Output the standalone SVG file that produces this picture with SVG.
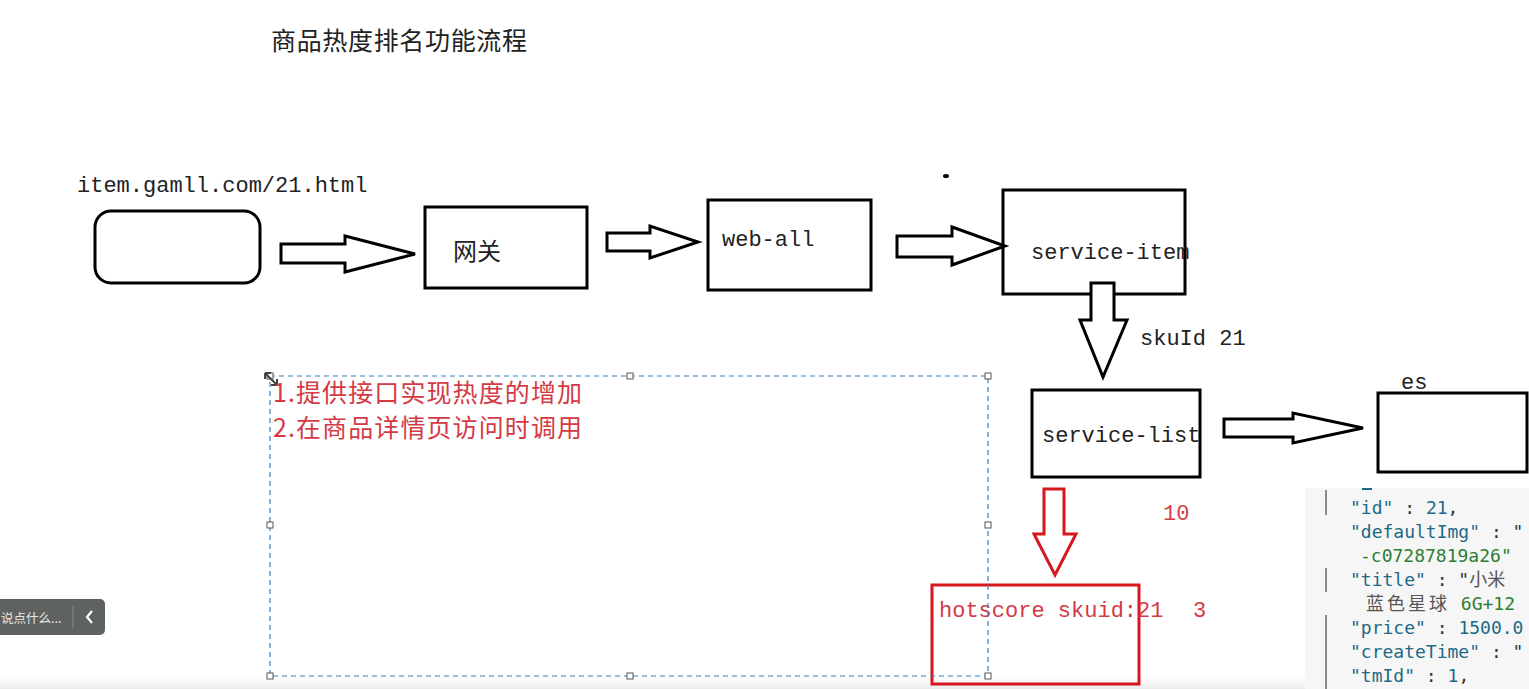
<svg xmlns="http://www.w3.org/2000/svg" width="1529" height="689" viewBox="0 0 1529 689">
<style>
.box{fill:#fff;stroke:#000;stroke-width:3}
.arr{fill:#fff;stroke:#000;stroke-width:3;stroke-linejoin:miter}
.rarr{fill:#fff;stroke:#d7161e;stroke-width:3}
.mono{font-family:"Liberation Mono","DejaVu Sans Mono",monospace;font-size:22px;fill:#222}
.cjk{font-family:"Noto Sans CJK SC","Noto Sans CJK JP",sans-serif}
.red{fill:#d43a45}
.sel{fill:none;stroke:#3d7fb8;stroke-width:1.2;stroke-dasharray:5 4}
.hdl{fill:#fff;stroke:#555;stroke-width:1}
.json{font-family:"DejaVu Sans Mono","Liberation Mono",monospace;font-size:18px}
.k{fill:#1d6a86}
.p{fill:#333}
.g{fill:#2e7d32}
.gr{fill:#555}
.bar{stroke:#8a8a8a;stroke-width:2}
</style>
<rect x="0" y="0" width="1529" height="689" fill="#fff"/>
<defs>
<linearGradient id="btm" x1="0" y1="0" x2="0" y2="1">
<stop offset="0" stop-color="#fff" stop-opacity="0"/>
<stop offset="1" stop-color="#e9e9e9"/>
</linearGradient>
</defs>
<rect x="0" y="672" width="1529" height="17" fill="url(#btm)"/>

<text x="271" y="50" class="cjk" font-size="25" fill="#222" textLength="256">商品热度排名功能流程</text>

<text x="77" y="192" class="mono">item.gamll.com/21.html</text>

<g id="node-client"><rect x="95" y="211" width="165" height="72" rx="16" class="box"/></g>

<g id="node-gateway"><rect x="425" y="207" width="162" height="81" class="box"/>
<text x="453" y="260" class="cjk" font-size="24" fill="#222">网关</text></g>

<g id="node-weball"><rect x="708" y="200" width="163" height="90" class="box"/>
<text x="722" y="246" class="mono">web-all</text></g>

<g id="node-serviceitem"><rect x="1003" y="190" width="182" height="104" class="box"/></g>

<g id="node-servicelist"><rect x="1032" y="390" width="168" height="87" class="box"/></g>

<g id="node-es"><rect x="1378" y="393" width="149" height="79" class="box"/>
<text x="1401" y="389" class="mono">es</text></g>

<g id="connectors">
<polygon class="arr" points="281,244 345,244 345,236 415,254 345,272 345,263 281,263"/>
<polygon class="arr" points="607,233 650,233 650,226 698,242 650,258 650,251 607,251"/>
<polygon class="arr" points="897,236 952,236 952,227 1005,246 952,265 952,257 897,257"/>
<polygon class="arr" points="1091,283 1114,283 1114,320 1127,320 1103,377 1080,320 1091,320"/>
<polygon class="arr" points="1224,419 1293,419 1293,413 1363,428 1293,443 1293,437 1224,437"/>
<polygon class="rarr" points="1044,489 1064,489 1064,534 1076,534 1055,575 1034,534 1044,534"/>
</g>

<text x="1031" y="259" class="mono">service-item</text>
<text x="1042" y="442" class="mono">service-list</text>
<text x="1140" y="345" class="mono">skuId 21</text>
<ellipse cx="946" cy="176" rx="3" ry="2" fill="#000"/>

<text x="1163" y="520" class="mono red">10</text>

<g id="node-hotscore"><rect x="932" y="585" width="207" height="99" fill="none" stroke="#d7161e" stroke-width="3"/>
<text x="939" y="617" class="mono red">hotscore skuid:21</text></g>
<text x="1193" y="617" class="mono red">3</text>

<g id="selection">
<rect x="270" y="376" width="718" height="300" class="sel"/>
<rect x="267" y="373" width="6" height="6" class="hdl"/>
<rect x="627" y="373" width="6" height="6" class="hdl"/>
<rect x="985" y="373" width="6" height="6" class="hdl"/>
<rect x="267" y="522" width="6" height="6" class="hdl"/>
<rect x="985" y="522" width="6" height="6" class="hdl"/>
<rect x="267" y="673" width="6" height="6" class="hdl"/>
<rect x="627" y="673" width="6" height="6" class="hdl"/>
<rect x="985" y="673" width="6" height="6" class="hdl"/>
<path d="M265,373 L277,385 M265,373 L265,379 M265,373 L271,373 M277,385 L277,379 M277,385 L271,385" stroke="#444" stroke-width="2" fill="none"/>
</g>

<text x="273" y="402" class="cjk red" font-size="25" textLength="309">1.提供接口实现热度的增加</text>
<text x="273" y="437" class="cjk red" font-size="25" textLength="309">2.在商品详情页访问时调用</text>

<g id="json-panel">
<rect x="1305" y="488" width="224" height="201" fill="#f6f6f6"/>
<line x1="1326" y1="490" x2="1326" y2="515" class="bar"/>
<line x1="1326" y1="568" x2="1326" y2="592" class="bar"/>
<line x1="1326" y1="615" x2="1326" y2="689" class="bar"/>
<line x1="1362" y1="489" x2="1372" y2="489" stroke="#1d6a86" stroke-width="2"/>
<text class="json" x="1350" y="514"><tspan class="k">"id"</tspan><tspan class="p"> : </tspan><tspan class="k">21</tspan><tspan class="p">,</tspan></text>
<text class="json" x="1350" y="538"><tspan class="k">"defaultImg"</tspan><tspan class="p"> : "</tspan></text>
<text class="json g" x="1360" y="562">-c07287819a26"</text>
<text class="json" x="1350" y="586"><tspan class="k">"title"</tspan><tspan class="p"> : "</tspan><tspan class="gr" font-family="Noto Sans CJK SC, sans-serif">小米</tspan></text>
<text class="json" x="1366" y="610"><tspan class="gr" font-family="Noto Sans CJK SC, sans-serif" letter-spacing="3">蓝色星球</tspan><tspan class="g"> 6G+12</tspan></text>
<text class="json" x="1350" y="634"><tspan class="k">"price"</tspan><tspan class="p"> : </tspan><tspan class="k">1500.0</tspan></text>
<text class="json" x="1350" y="658"><tspan class="k">"createTime"</tspan><tspan class="p"> : "</tspan></text>
<text class="json" x="1350" y="682"><tspan class="k">"tmId"</tspan><tspan class="p"> : </tspan><tspan class="k">1</tspan><tspan class="p">,</tspan></text>
</g>

<g id="chat-pill">
<rect x="-10" y="599" width="115" height="36" rx="5" fill="#5e6361"/>
<text x="1" y="623" font-family="Noto Sans CJK SC, sans-serif" font-size="12.5" fill="#e8e8e8">说点什么...</text>
<line x1="73" y1="606" x2="73" y2="628" stroke="#8a8e8c" stroke-width="1"/>
<path d="M92,611 L87,617 L92,623" stroke="#fff" stroke-width="2.2" fill="none"/>
</g>
</svg>
